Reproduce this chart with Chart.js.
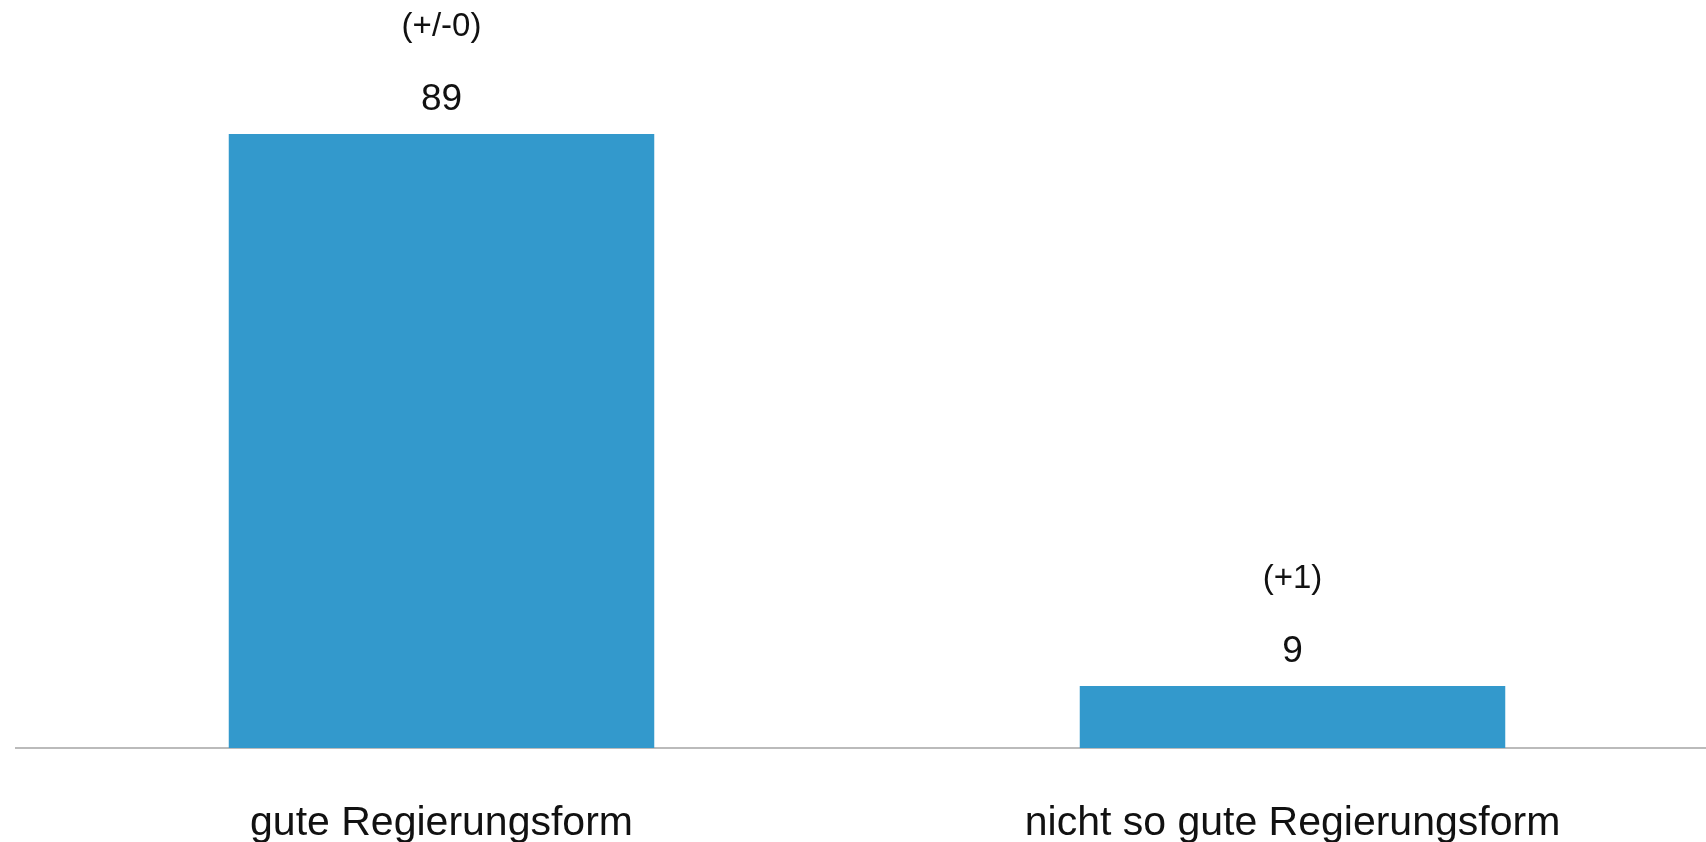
<!DOCTYPE html>
<html>
<head>
<meta charset="utf-8">
<script src="https://cdn.jsdelivr.net/npm/chart.js@4/dist/chart.umd.min.js"></script>
<style>
  html, body { margin: 0; padding: 0; overflow: hidden; background: #fff; }
  #wrap { width: 1718px; height: 842px; }
</style>
</head>
<body>
<div id="wrap"><canvas id="myChart" width="1718" height="842"></canvas></div>
<script>
/* data */
const categories = ['gute Regierungsform', 'nicht so gute Regierungsform'];
const values = [89, 9];
const changes = ['(+/-0)', '(+1)'];

const barColor = '#3399cc';
const fontFamily = '"Liberation Sans", Arial, Helvetica, sans-serif';

/* value + change labels above each bar */
const barLabels = {
    id: 'barLabels',
    afterDatasetsDraw(chart) {
        const ctx = chart.ctx;
        const meta = chart.getDatasetMeta(0);
        ctx.save();
        ctx.fillStyle = '#111';
        ctx.textAlign = 'center';
        ctx.textBaseline = 'alphabetic';
        meta.data.forEach(function(bar, i) {
            ctx.font = '37px ' + fontFamily;
            ctx.fillText(String(values[i]), bar.x, bar.y - 24);
            ctx.font = '33px ' + fontFamily;
            ctx.fillText(changes[i], bar.x, bar.y - 98);
        });
        ctx.restore();
    }
};

var ctx = document.getElementById('myChart').getContext('2d');

var chart = new Chart(ctx, {
    type: 'bar',
    data: {
        labels: categories,
        datasets: [{
            data: values,
            backgroundColor: barColor,
            borderWidth: 0,
            categoryPercentage: 1,
            barPercentage: 0.5
        }]
    },
    options: {
        responsive: false,
        animation: false,
        layout: { padding: { top: 58, left: 16, right: 0, bottom: 0 } },
        plugins: {
            legend: { display: false },
            tooltip: { enabled: false }
        },
        scales: {
            x: {
                afterFit: function(scale) { scale.height = 94; },
                grid: { display: false, drawTicks: false },
                border: { display: true, color: '#bbbbbb', width: 2 },
                ticks: {
                    color: '#111',
                    padding: 51,
                    font: { size: 41, family: fontFamily }
                }
            },
            y: {
                display: false,
                min: 0,
                max: 100
            }
        }
    },
    plugins: [barLabels]
});
</script>
</body>
</html>
